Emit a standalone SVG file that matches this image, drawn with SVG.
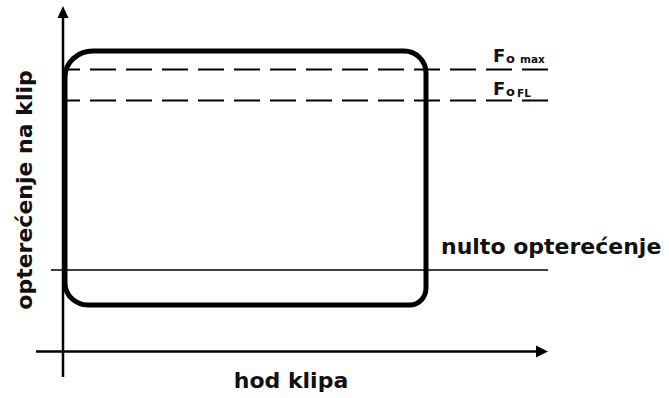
<svg xmlns="http://www.w3.org/2000/svg" width="669" height="398" viewBox="0 0 669 398">
<style>
  .lbl { font-family: "DejaVu Sans", "Liberation Sans", sans-serif; font-weight: bold; fill: #111; }
  .axis { stroke: #000; stroke-width: 2.5; fill: none; }
  .dash { stroke: #000; stroke-width: 2; stroke-dasharray: 26 10; stroke-dashoffset: 12; fill: none; }
  .thin { stroke: #000; stroke-width: 1.5; fill: none; }
  .curve { stroke: #000; stroke-width: 5; fill: none; stroke-linejoin: round; }
</style>
<rect width="669" height="398" fill="#fff"/>
<g id="axes">
  <line class="axis" x1="63" y1="377" x2="63" y2="16"/>
  <polygon points="63,6 57.5,18 68.5,18" fill="#000"/>
  <line class="axis" x1="36" y1="351.5" x2="538" y2="351.5"/>
  <polygon points="548,351.5 536,345.5 536,357.5" fill="#000"/>
</g>
<g id="connectors">
  <line class="dash" x1="66" y1="69.5" x2="549" y2="69.5"/>
  <line class="dash" x1="66" y1="100.5" x2="549" y2="100.5"/>
  <line class="thin" x1="51" y1="270" x2="548" y2="270"/>
</g>
<g id="loop">
  <path class="curve" d="M 65 77 A 28 26 0 0 1 93 51 L 404 51 A 22 22 0 0 1 426 73 L 426 288 A 16 17 0 0 1 410 305 L 88 305 A 23 22 0 0 1 65 283 Z"/>
</g>
<g id="label-fomax">
  <text class="lbl" x="493" y="62" font-size="18">F</text>
  <text class="lbl" x="506" y="63" font-size="13">o</text>
  <text class="lbl" x="520" y="63" font-size="10.5">max</text>
</g>
<g id="label-fofl">
  <text class="lbl" x="493" y="95" font-size="18">F</text>
  <text class="lbl" x="506" y="96" font-size="13">o</text>
  <text class="lbl" x="517" y="97" font-size="10.5">FL</text>
</g>
<g id="label-nulto">
  <text class="lbl" x="441" y="254" font-size="22">nulto opterećenje</text>
</g>
<g id="label-x">
  <text class="lbl" x="291" y="388" font-size="22" text-anchor="middle">hod klipa</text>
</g>
<g id="label-y">
  <text class="lbl" font-size="22" text-anchor="middle" transform="translate(32,190) rotate(-90)">opterećenje na klip</text>
</g>
</svg>
